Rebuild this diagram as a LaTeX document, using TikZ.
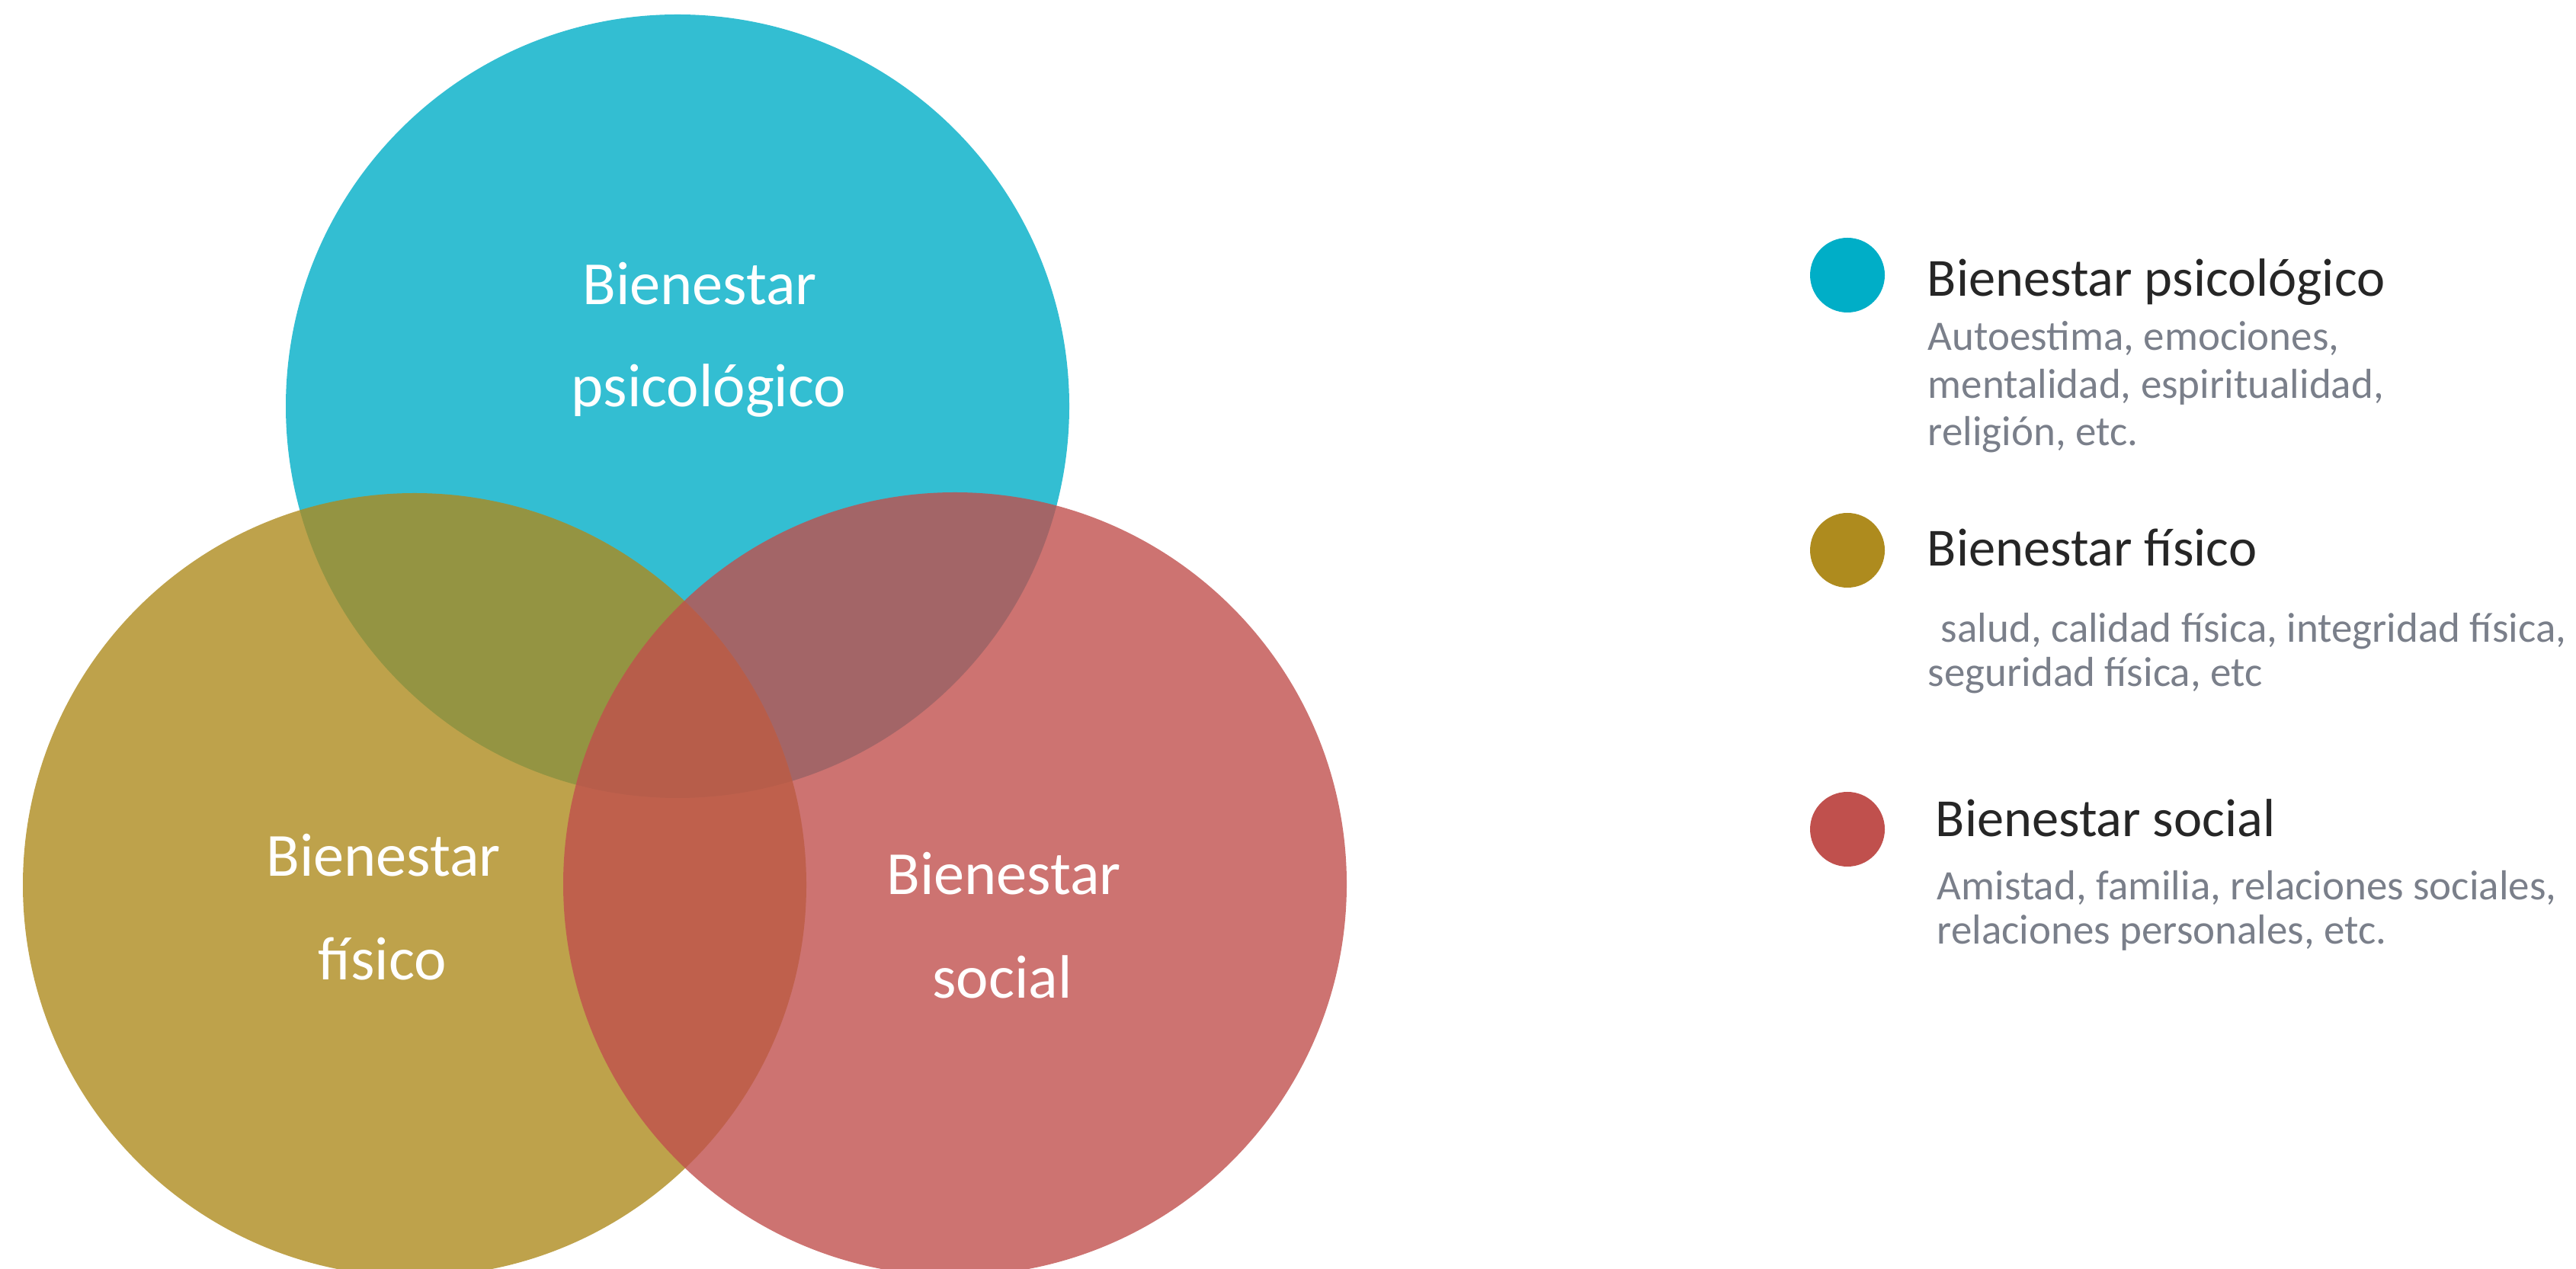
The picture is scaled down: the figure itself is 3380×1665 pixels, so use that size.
\documentclass[tikz,border=0pt]{standalone}
\usepackage{fontspec}
\setmainfont{Carlito}
\definecolor{cblue}{HTML}{00AEC7}
\definecolor{colive}{HTML}{AE8B1E}
\definecolor{cred}{HTML}{C0504D}
\definecolor{ctitle}{HTML}{262626}
\definecolor{cgray}{HTML}{7A7F8A}
\begin{document}
\begin{tikzpicture}[x=0.25pt,y=-0.25pt,
  bigcircle/.style={circle,minimum size=257pt,inner sep=0pt,fill opacity=0.8,draw=none},
  dot/.style={circle,minimum size=24.5pt,inner sep=0pt,draw=none},
  clabel/.style={anchor=base,inner sep=0pt,text=white,font=\fontsize{20.1}{24}\selectfont},
  ltitle/.style={anchor=base west,inner sep=0pt,text=ctitle,font=\fontsize{17.6}{21}\selectfont},
  ldesc/.style={anchor=base west,inner sep=0pt,text=cgray,font=\fontsize{13.75}{16}\selectfont}]
\useasboundingbox (0,0) rectangle (3380,1665);
\clip (0,0) rectangle (3380,1665);
% Venn circles
\node[bigcircle,fill=cblue] (psi) at (889,533) {};
\node[bigcircle,fill=colive] (fis) at (544,1161) {};
\node[bigcircle,fill=cred] (soc) at (1253,1160) {};
% circle labels
\node[clabel] (psi1) at (918,400) {Bienestar};
\node[clabel] (psi2) at (930,534) {psicológico};
\node[clabel] (fis1) at (503,1149) {Bienestar};
\node[clabel] (fis2) at (502,1285) {físico};
\node[clabel] (soc1) at (1317,1174) {Bienestar};
\node[clabel] (soc2) at (1315,1309) {social};
% legend
\node[dot,fill=cblue] (dpsi) at (2424,361) {};
\node[ltitle] (tpsi) at (2528,389) {Bienestar psicológico};
\node[ldesc] (psia) at (2529,460) {Autoestima, emociones,};
\node[ldesc] (psib) at (2529,523) {mentalidad, espiritualidad,};
\node[ldesc] (psic) at (2529,585) {religión, etc.};
\node[dot,fill=colive] (dfis) at (2424,722) {};
\node[ltitle] (tfis) at (2528,743) {Bienestar físico};
\node[ldesc] (fisa) at (2546,843) {salud, calidad física, integridad física,};
\node[ldesc] (fisb) at (2529,901) {seguridad física, etc};
\node[dot,fill=cred] (dsoc) at (2424,1088) {};
\node[ltitle] (tsoc) at (2539,1098) {Bienestar social};
\node[ldesc] (soca) at (2541,1180) {Amistad, familia, relaciones sociales,};
\node[ldesc] (socb) at (2541,1238) {relaciones personales, etc.};
\end{tikzpicture}
\end{document}
